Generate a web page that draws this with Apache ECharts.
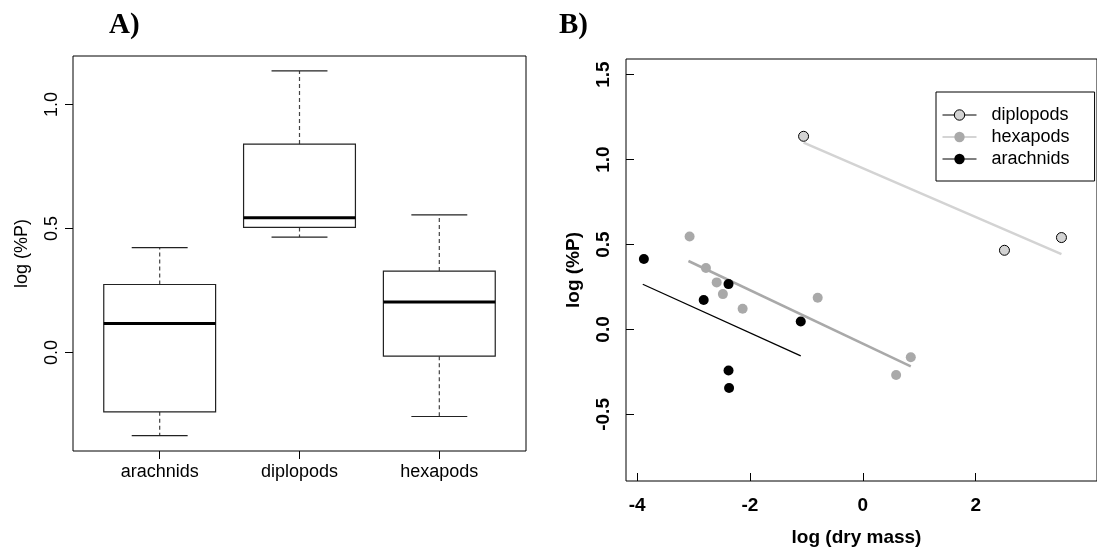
<!DOCTYPE html>
<html>
<head>
<meta charset="utf-8">
<script src="https://cdn.jsdelivr.net/npm/echarts@6/dist/echarts.min.js"></script>
<style>
html,body{margin:0;padding:0;background:#fff;}
#chart{width:1097px;height:558px;}
</style>
</head>
<body>
<div id="chart"></div>
<script>
// ---- Panel A data (boxplot stats: lower whisker, Q1, median, Q3, upper whisker)
const boxCategories = ['arachnids', 'diplopods', 'hexapods'];
const arachnidsBox = [-0.335, -0.239, 0.117, 0.274, 0.423];
const diplopodsBox = [0.465, 0.504, 0.543, 0.840, 1.135];
const hexapodsBox = [-0.258, -0.015, 0.204, 0.328, 0.555];
const boxYTicks = [0, 0.5, 1.0];

// ---- Panel B data (log dry mass, log %P)
const diplopodsPts = [[-1.05, 1.137], [2.51, 0.466], [3.52, 0.541]];
const hexapodsPts = [[-3.07, 0.547], [-2.78, 0.362], [-2.59, 0.277], [-2.48, 0.208], [-2.13, 0.122], [-0.80, 0.187], [0.59, -0.268], [0.85, -0.164]];
const arachnidsPts = [[-3.88, 0.415], [-2.82, 0.173], [-2.38, 0.267], [-1.10, 0.047], [-2.38, -0.242], [-2.37, -0.345]];
const diplopodsFit = [[-1.05, 1.10], [3.52, 0.443]];
const hexapodsFit = [[-3.09, 0.403], [0.85, -0.217]];
const arachnidsFit = [[-3.90, 0.266], [-1.10, -0.156]];
const scatterXTicks = [-4, -2, 0, 2];
const scatterYTicks = [-0.5, 0, 0.5, 1.0, 1.5];

const boxData = [arachnidsBox, diplopodsBox, hexapodsBox].map((s, i) => [i + 1].concat(s));

const FONT = 'Liberation Sans, Arial, Helvetica, sans-serif';
const chart = echarts.init(document.getElementById('chart'));

function renderBox(params, api) {
  const x = api.value(0);
  const lo = api.value(1), q1 = api.value(2), med = api.value(3), q3 = api.value(4), hi = api.value(5);
  const hb = 0.4, hc = 0.2;
  const tl = api.coord([x - hb, q3]);
  const br = api.coord([x + hb, q1]);
  const mL = api.coord([x - hb, med]);
  const mR = api.coord([x + hb, med]);
  const c = api.coord([x, 0])[0];
  const yHi = api.coord([x, hi])[1];
  const yLo = api.coord([x, lo])[1];
  const capL = api.coord([x - hc, 0])[0];
  const capR = api.coord([x + hc, 0])[0];
  const dash = {stroke: '#444', lineWidth: 1.2, lineDash: [4, 3]};
  const solid = {stroke: '#222', lineWidth: 1.2};
  return {
    type: 'group',
    children: [
      {type: 'line', shape: {x1: c, y1: tl[1], x2: c, y2: yHi}, style: dash},
      {type: 'line', shape: {x1: c, y1: br[1], x2: c, y2: yLo}, style: dash},
      {type: 'line', shape: {x1: capL, y1: yHi, x2: capR, y2: yHi}, style: solid},
      {type: 'line', shape: {x1: capL, y1: yLo, x2: capR, y2: yLo}, style: solid},
      {type: 'rect', shape: {x: tl[0], y: tl[1], width: br[0] - tl[0], height: br[1] - tl[1]}, style: {fill: '#fff', stroke: '#222', lineWidth: 1.2}},
      {type: 'line', shape: {x1: mL[0], y1: mL[1], x2: mR[0], y2: mR[1]}, style: {stroke: '#000', lineWidth: 3}}
    ]
  };
}

const hiddenLine = () => ({show: false, onZero: false});

const option = {
  animation: false,
  backgroundColor: '#fff',
  title: [
    {text: 'A)', left: 104, top: 6, textStyle: {fontFamily: 'Liberation Serif, Times New Roman, serif', fontWeight: 'bold', fontSize: 29, color: '#000'}},
    {text: 'B)', left: 554, top: 6, textStyle: {fontFamily: 'Liberation Serif, Times New Roman, serif', fontWeight: 'bold', fontSize: 29, color: '#000'}}
  ],
  legend: {
    orient: 'vertical',
    left: 936,
    top: 92,
    padding: [12, 25, 11, 6],
    itemGap: 0,
    itemWidth: 34,
    itemHeight: 13,
    borderColor: '#000',
    borderWidth: 1,
    backgroundColor: '#fff',
    textStyle: {fontFamily: FONT, fontSize: 18, color: '#000', lineHeight: 22, padding: [0, 0, 0, 10]},
    data: [
      {name: 'diplopods', itemStyle: {color: '#d3d3d3', borderColor: '#000', borderWidth: 1}, lineStyle: {color: '#000', width: 1}},
      {name: 'hexapods', itemStyle: {color: '#a9a9a9', borderWidth: 0}, lineStyle: {color: '#a9a9a9', width: 1}},
      {name: 'arachnids', itemStyle: {color: '#000', borderWidth: 0}, lineStyle: {color: '#000', width: 1}}
    ]
  },
  grid: [
    {left: 73, top: 56, width: 453, height: 395, show: true, borderColor: '#000', borderWidth: 1, backgroundColor: 'transparent'},
    {left: 626, top: 59, width: 480, height: 422, show: true, borderColor: '#000', borderWidth: 1, backgroundColor: 'transparent'}
  ],
  xAxis: [
    {
      gridIndex: 0, type: 'value', min: 0.38, max: 3.62,
      axisLine: hiddenLine(), splitLine: {show: false},
      axisTick: {show: true, inside: false, length: 8, lineStyle: {color: '#000'}, customValues: [1, 2, 3]},
      axisLabel: {customValues: [1, 2, 3], margin: 12, fontFamily: FONT, fontSize: 18, color: '#000',
        formatter: v => boxCategories[Math.round(v) - 1]}
    },
    {
      gridIndex: 1, type: 'value', min: -4.197, max: 4.15,
      axisLine: hiddenLine(), splitLine: {show: false},
      axisTick: {show: true, inside: true, length: 8, lineStyle: {color: '#000'}, customValues: scatterXTicks},
      axisLabel: {customValues: scatterXTicks, margin: 15, fontFamily: FONT, fontSize: 19, fontWeight: 'bold', color: '#000',
        formatter: v => String(v)},
      name: 'log (dry mass)', nameLocation: 'middle', nameGap: 47,
      nameTextStyle: {fontFamily: FONT, fontSize: 19, fontWeight: 'bold', color: '#000', padding: [0, 10, 0, 0]}
    }
  ],
  yAxis: [
    {
      gridIndex: 0, type: 'value', min: -0.397, max: 1.195,
      axisLine: hiddenLine(), splitLine: {show: false},
      axisTick: {show: true, inside: false, length: 8, lineStyle: {color: '#000'}, customValues: boxYTicks},
      axisLabel: {customValues: boxYTicks, rotate: 90, margin: 12, fontFamily: FONT, fontSize: 18, color: '#000',
        formatter: v => v.toFixed(1)},
      name: 'log (%P)', nameLocation: 'middle', nameGap: 42, nameRotate: 90,
      nameTextStyle: {fontFamily: FONT, fontSize: 18, color: '#000'}
    },
    {
      gridIndex: 1, type: 'value', min: -0.892, max: 1.592,
      axisLine: hiddenLine(), splitLine: {show: false},
      axisTick: {show: true, inside: true, length: 8, lineStyle: {color: '#000'}, customValues: scatterYTicks},
      axisLabel: {customValues: scatterYTicks, rotate: 90, margin: 13, fontFamily: FONT, fontSize: 19, fontWeight: 'bold', color: '#000',
        formatter: v => v.toFixed(1)},
      name: 'log (%P)', nameLocation: 'middle', nameGap: 43, nameRotate: 90,
      nameTextStyle: {fontFamily: FONT, fontSize: 19, fontWeight: 'bold', color: '#000'}
    }
  ],
  series: [
    {
      type: 'custom', xAxisIndex: 0, yAxisIndex: 0,
      renderItem: renderBox,
      encode: {x: 0, y: [1, 2, 3, 4, 5]},
      data: boxData,
      silent: true
    },
    {name: 'diplopods', type: 'line', xAxisIndex: 1, yAxisIndex: 1, data: diplopodsFit, symbol: 'circle', symbolSize: 10, showSymbol: false,
      lineStyle: {color: '#d3d3d3', width: 2.5}, itemStyle: {color: '#d3d3d3'}, z: 2},
    {name: 'hexapods', type: 'line', xAxisIndex: 1, yAxisIndex: 1, data: hexapodsFit, symbol: 'circle', symbolSize: 10, showSymbol: false,
      lineStyle: {color: '#a9a9a9', width: 2.5}, itemStyle: {color: '#a9a9a9'}, z: 2},
    {name: 'arachnids', type: 'line', xAxisIndex: 1, yAxisIndex: 1, data: arachnidsFit, symbol: 'circle', symbolSize: 10, showSymbol: false,
      lineStyle: {color: '#000', width: 1.3}, itemStyle: {color: '#000'}, z: 2},
    {name: 'diplopods', type: 'scatter', xAxisIndex: 1, yAxisIndex: 1, data: diplopodsPts, symbolSize: 10,
      itemStyle: {color: '#d3d3d3', borderColor: '#000', borderWidth: 1, opacity: 1}, z: 3},
    {name: 'hexapods', type: 'scatter', xAxisIndex: 1, yAxisIndex: 1, data: hexapodsPts, symbolSize: 10,
      itemStyle: {color: '#a9a9a9', opacity: 1}, z: 3},
    {name: 'arachnids', type: 'scatter', xAxisIndex: 1, yAxisIndex: 1, data: arachnidsPts, symbolSize: 10,
      itemStyle: {color: '#000', opacity: 1}, z: 3}
  ]
};
chart.setOption(option);
</script>
</body>
</html>
